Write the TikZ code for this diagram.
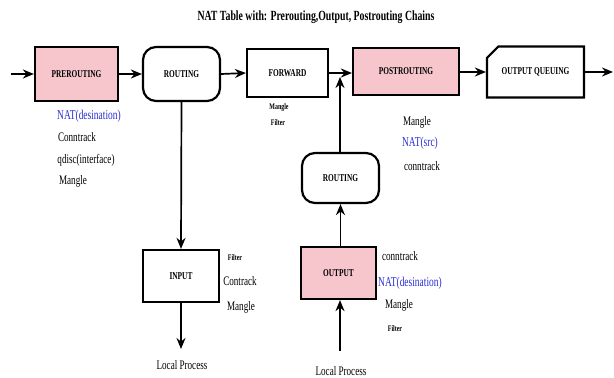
\documentclass[tikz,border=0pt]{standalone}
\usepackage{fontspec}
\setmainfont{Liberation Serif}[FakeStretch=0.7]
\usetikzlibrary{arrows.meta,shapes.misc}
\definecolor{pinkfill}{HTML}{F7C6CD}
\definecolor{natblue}{HTML}{2B2BD4}
\begin{document}
\begin{tikzpicture}[x=1pt,y=-1pt,
  box/.style={draw=black,line width=2.2pt,minimum width=#1,inner sep=0pt,font=\bfseries\fontsize{10.5}{11}\selectfont},
  conn/.style={line width=1.7pt,-{Stealth[length=11pt,width=9pt]}},
  lbl/.style={inner sep=0pt,font=\fontsize{13}{14}\selectfont},
  nat/.style={inner sep=0pt,text=natblue,font=\fontsize{13.5}{14}\selectfont},
  small/.style={inner sep=0pt,font=\bfseries\fontsize{8.5}{9}\selectfont}]
\useasboundingbox (0,0) rectangle (614,378);
\node[inner sep=0pt,font=\bfseries\fontsize{14}{15}\selectfont] (title) at (316,17) {NAT Table with: Prerouting,Output, Postrouting Chains};
% top row
\node[box=83pt,minimum height=54pt,fill=pinkfill] (pre) at (76.5,74) {PREROUTING};
\node[box=77pt,minimum height=54pt,rounded corners=13pt] (rt1) at (181.5,74) {ROUTING};
\node[box=81pt,minimum height=48pt] (fwd) at (287.5,73) {FORWARD};
\node[box=106pt,minimum height=47pt,fill=pinkfill] (post) at (406,71.5) {POSTROUTING};
\node[box=97pt,minimum height=51pt,chamfered rectangle,chamfered rectangle corners=north west,chamfered rectangle xsep=7pt,chamfered rectangle ysep=7pt] (oq) at (535.5,72) {OUTPUT QUEUING};
\coordinate (inS) at (11,74);
\coordinate (outE) at (613,72);
% lower nodes
\node[box=77pt,minimum height=50pt,rounded corners=13pt] (rt2) at (340.5,178) {ROUTING};
\node[box=76pt,minimum height=52pt] (inp) at (181,276) {INPUT};
\node[box=75pt,minimum height=52pt,fill=pinkfill] (out) at (338.5,273) {OUTPUT};
\coordinate (lp1a) at (181,349);
\coordinate (lp2a) at (340,351);
\coordinate (fwdtip) at (340,77);
\node[lbl] (lp1) at (182,365) {Local Process};
\node[lbl] (lp2) at (341,371) {Local Process};
% connectors
\draw[conn] (inS) -- (pre.west |- inS);
\draw[conn] (pre.east) -- (rt1.west |- pre.east);
\draw[conn] (rt1.east) -- (fwd.west);
\draw[conn] (fwd.east) -- (post.west |- fwd.east);
\draw[conn] (post.east |- oq.west) -- (oq.west);
\draw[conn] (oq.east) -- (outE);
\draw[conn] (rt1.south) -- (inp.north);
\draw[conn] (inp.south) -- (lp1a);
\draw[conn] (rt2.north -| fwdtip) -- (fwdtip);
\draw[conn] (out.north -| rt2.south) -- (rt2.south);
\draw[conn] (lp2a) -- (lp2a |- out.south);
% labels PREROUTING
\node[nat] (l1) at (89,116) {NAT(desination)};
\node[lbl] (l2) at (77,137) {Conntrack};
\node[lbl] (l3) at (86,160) {qdisc(interface)};
\node[lbl] (l4) at (73,181) {Mangle};
% FORWARD
\node[small] (l5) at (279,107) {Mangle};
\node[small] (l6) at (278,123) {Filter};
% POSTROUTING
\node[lbl] (l7) at (417,122) {Mangle};
\node[nat] (l8) at (420,143) {NAT(src)};
\node[lbl] (l9) at (422,166) {conntrack};
% INPUT
\node[small] (l10) at (235,258) {Filter};
\node[lbl] (l11) at (240,281) {Contrack};
\node[lbl] (l12) at (241,307) {Mangle};
% OUTPUT
\node[lbl] (l13) at (400,256) {conntrack};
\node[nat] (l14) at (410,283) {NAT(desination)};
\node[lbl] (l15) at (399,305) {Mangle};
\node[small] (l16) at (395,329) {Filter};
\end{tikzpicture}
\end{document}
